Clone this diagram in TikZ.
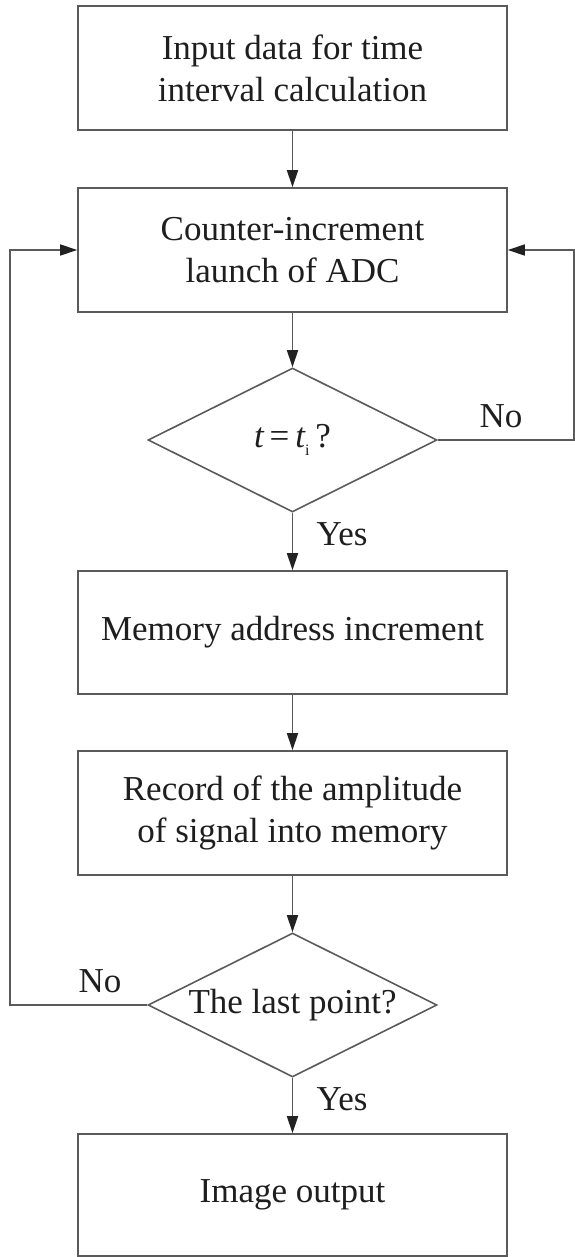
\documentclass[tikz,border=0pt]{standalone}
\usepackage{fontspec}
\setmainfont{Liberation Serif}
\usetikzlibrary{shapes.geometric,arrows.meta}
\definecolor{linec}{HTML}{5A5A5A}
\definecolor{textc}{HTML}{1E1E1E}
\definecolor{tipc}{HTML}{222222}
\begin{document}
\begin{tikzpicture}[x=1pt,y=-1pt,
  every node/.style={text=textc,font=\fontsize{35}{42}\selectfont},
  procbox/.style={draw=linec,line width=1.6pt,rectangle,minimum width=429pt,inner sep=0pt,align=center},
  decision/.style={draw=linec,line width=1.6pt,diamond,minimum width=289pt,minimum height=144pt,inner sep=0pt},
  conn/.style={draw=linec,line width=1.6pt},
  arr/.style={conn,-{Triangle[length=17pt,width=11pt,fill=tipc,color=tipc]}},
  lbl/.style={inner sep=0pt,anchor=base}]
\useasboundingbox (0,0) rectangle (575,1257);
\node[procbox,minimum height=124pt] (b1) at (292.5,68) {Input data for time\\interval calculation};
\node[procbox,minimum height=124pt] (b2) at (292.5,250) {Counter-increment\\launch of ADC};
\node[decision] (d1) at (292.5,440) {};
\node at (d1.center) {\itshape t\,\upshape=\,\itshape t\upshape\raisebox{-0.45ex}{\fontsize{16}{16}\selectfont i}\,?};
\node[procbox,minimum height=123pt] (b3) at (292.5,632.5) {Memory address increment};
\node[procbox,minimum height=124pt] (b4) at (292.5,813) {Record of the amplitude\\of signal into memory};
\node[decision] (d2) at (292.5,1005) {};
\node at (d2.center) {The last point?};
\node[procbox,minimum height=122pt] (b5) at (292.5,1195) {Image output};
\coordinate (rtop) at (574,250);
\coordinate (rbot) at (574,440);
\coordinate (ltop) at (10,250);
\coordinate (lbot) at (10,1005);
\draw[arr] (b1.south) -- (b2.north);
\draw[arr] (b2.south) -- (d1.north);
\draw[arr] (d1.south) -- (b3.north);
\draw[arr] (b3.south) -- (b4.north);
\draw[arr] (b4.south) -- (d2.north);
\draw[arr] (d2.south) -- (b5.north);
\draw[arr] (d1.east) -- (rbot) -- (rtop) -- (b2.east);
\draw[arr] (d2.west) -- (lbot) -- (ltop) -- (b2.west);
\node[lbl] (no1) at (501,427) {No};
\node[lbl] (yes1) at (342,545) {Yes};
\node[lbl] (no2) at (100,992) {No};
\node[lbl] (yes2) at (342,1110) {Yes};
\end{tikzpicture}
\end{document}
